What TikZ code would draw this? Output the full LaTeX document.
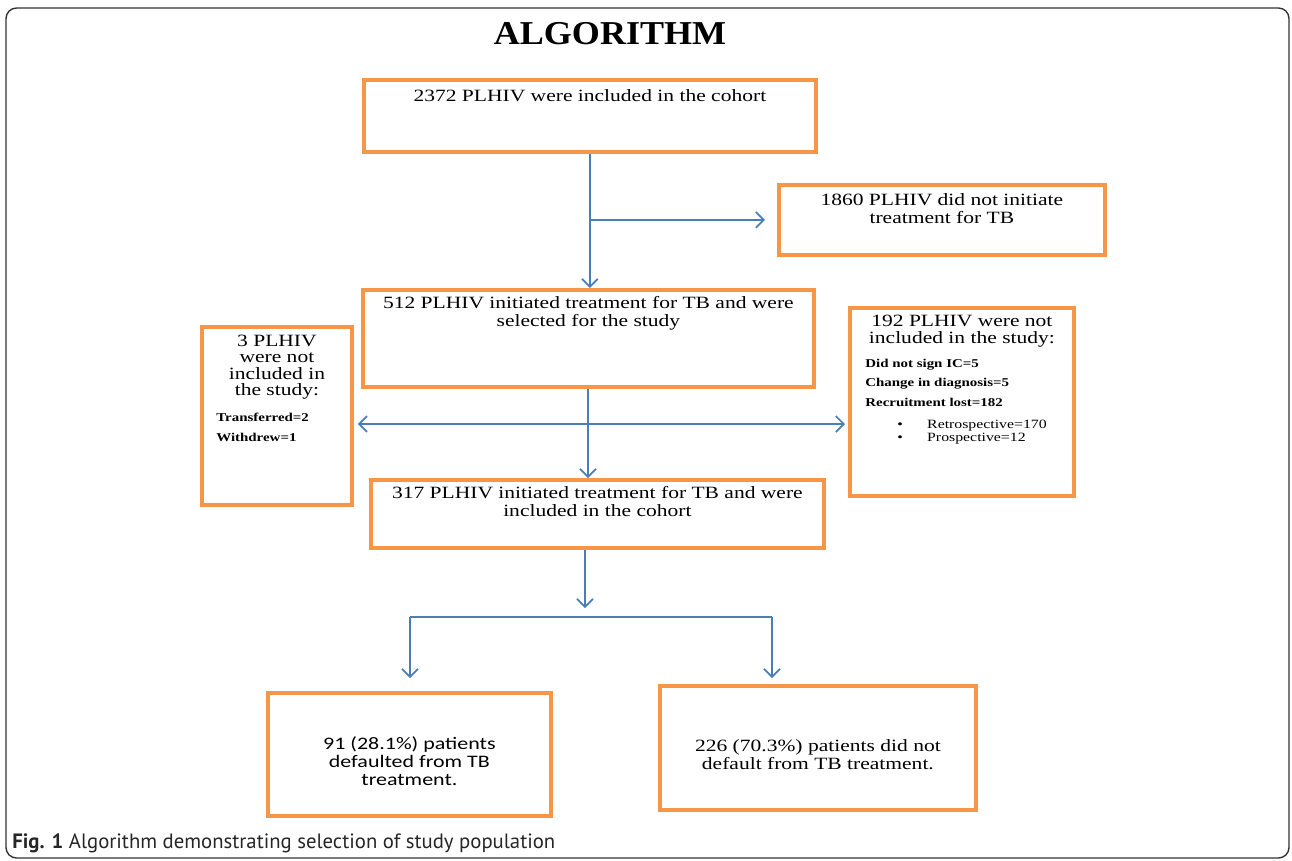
\documentclass[tikz,border=0pt]{standalone}
\usepackage{fontspec}
\setmainfont{Liberation Serif}[FakeStretch=1.25]
\setsansfont{PT Sans}
\newfontfamily\titlefont{Liberation Serif}[FakeStretch=1.08]
\newfontfamily\calfont{Carlito}[FakeStretch=1.25]
\usetikzlibrary{arrows.meta,positioning}
\definecolor{boxorange}{RGB}{247,150,70}
\definecolor{flowblue}{RGB}{74,126,187}
\tikzset{>={Straight Barb[length=4.5pt,width=9pt]}}

\begin{document}
\begin{tikzpicture}[x=0.02cm,y=-0.02cm,
    box/.style={draw=boxorange, line width=2.2pt, anchor=north west, inner sep=0pt},
    txt/.style={inner sep=0pt, align=center, font=\fontsize{9.8}{10.5}\selectfont},
    small/.style={inner sep=0pt, align=left, font=\fontsize{6.8}{11.3}\selectfont\bfseries},
    flow/.style={draw=flowblue, line width=1pt}]
  \useasboundingbox (0,0) rectangle (1292,860);
  \draw[rounded corners=6pt, line width=0.8pt, black!80] (6,8) rectangle (1289,858);

  \node[font=\titlefont\fontsize{19}{19}\selectfont\bfseries] (title) at (610,34) {ALGORITHM};

  % boxes
  \node[box, minimum width=9.04cm, minimum height=1.44cm] (cohort) at (362,78) {};
  \node[box, minimum width=6.52cm, minimum height=1.40cm] (noTx) at (777,183) {};
  \node[box, minimum width=9.02cm, minimum height=1.94cm] (selected) at (361,288) {};
  \node[box, minimum width=3.00cm, minimum height=3.56cm] (exclThree) at (200,325) {};
  \node[box, minimum width=4.48cm, minimum height=3.76cm] (exclMany) at (848,306) {};
  \node[box, minimum width=9.06cm, minimum height=1.36cm] (included) at (369,478) {};
  \node[box, minimum width=5.66cm, minimum height=2.46cm] (defaulted) at (266,691) {};
  \node[box, minimum width=6.32cm, minimum height=2.48cm] (notDefaulted) at (658,684) {};

  % box texts
  \node[txt, below=0.22cm of cohort.north] (cohortT) {2372 PLHIV were included in the cohort};
  \node[txt, below=0.2cm of noTx.north] (noTxT) {1860 PLHIV did not initiate\\ treatment for TB};
  \node[txt, below=0.16cm of selected.north] (selectedT) {512 PLHIV initiated treatment for TB and were\\ selected for the study};
  \node[txt, below=0.2cm of exclThree.north, font=\fontsize{9.8}{9.2}\selectfont] (exclThreeT) {3 PLHIV\\ were not\\ included in\\ the study:};
  \node[small, below right=1.75cm and 0.32cm of exclThree.north west] (exclThreeL) {Transferred=2\\ Withdrew=1};
  \node[txt, below=0.18cm of exclMany.north, font=\fontsize{9.8}{9.6}\selectfont] (exclManyT) {192 PLHIV were not\\ included in the study:};
  \node[small, below right=1.05cm and 0.34cm of exclMany.north west] (exclManyL) {Did not sign IC=5\\ Change in diagnosis=5\\ Recruitment lost=182};
  \node[small, font=\mdseries\fontsize{7.2}{7.6}\selectfont, below right=2.27cm and 0.98cm of exclMany.north west] (exclManyB)
    {\makebox[17pt][l]{\textbullet}Retrospective=170\\ \makebox[17pt][l]{\textbullet}Prospective=12};
  \node[txt, below=0.16cm of included.north] (includedT) {317 PLHIV initiated treatment for TB and were\\ included in the cohort};
  \node[txt, below=0.9cm of defaulted.north, font=\calfont\fontsize{10}{10.4}\selectfont] (defaultedT) {91 (28.1\%) patients\\ defaulted from TB\\ treatment.};
  \node[txt, below=1.1cm of notDefaulted.north] (notDefaultedT) {226 (70.3\%) patients did not\\ default from TB treatment.};

  % connectors
  \draw[flow,->] (cohort.south) -- (cohort.south |- selected.north);
  \draw[flow,->] (cohort.south |- noTx.west) -- ([xshift=-0.24cm]noTx.west);
  \coordinate (split) at (588,424);
  \draw[flow,->] (selected.south -| split) -- (included.north -| split);
  \draw[flow,<->] ([xshift=0.08cm]exclThree.east |- split) -- ([xshift=-0.06cm]exclMany.west |- split);
  \coordinate (fork) at (585,617);
  \draw[flow,->] (included.south -| fork) -- ([yshift=0.18cm]fork);
  \coordinate (forkL) at (410,617);
  \coordinate (forkR) at (772,617);
  \draw[flow,line width=0.7pt] (forkL) -- (forkR);
  \draw[flow,->] (forkL) -- ([yshift=0.26cm]forkL |- defaulted.north);
  \draw[flow,->] (forkR) -- ([yshift=0.12cm]forkR |- notDefaulted.north);

  \node[anchor=base west, font=\sffamily\fontsize{11.8}{14}\selectfont, text=black!85, inner sep=0pt] (caption) at (12,848)
    {\textbf{Fig. 1} Algorithm demonstrating selection of study population};
\end{tikzpicture}
\end{document}
